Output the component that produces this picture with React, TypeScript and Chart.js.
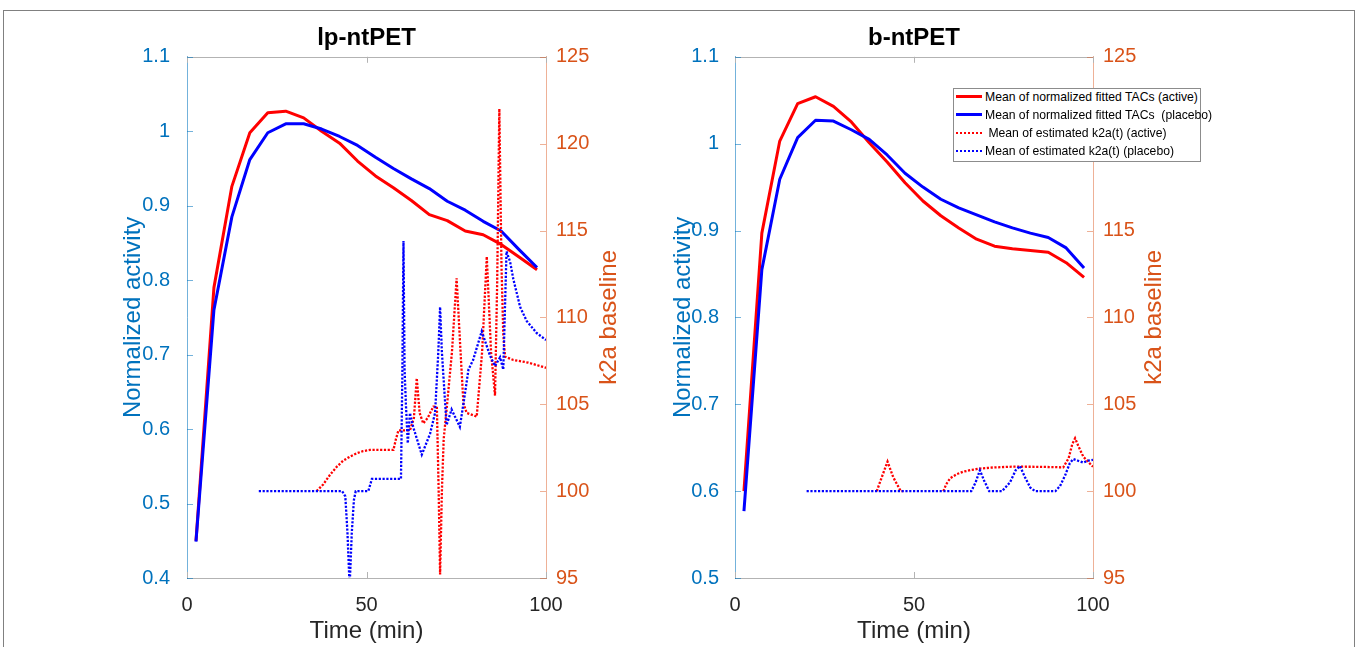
import React, { useEffect, useRef } from "react";
import { Chart, registerables } from "chart.js";

Chart.register(...registerables);

const FONT = '"Liberation Sans", Arial, Helvetica, sans-serif';
Chart.defaults.font.family = FONT;

const LEFT_COLOR = "#0072BD";
const RIGHT_COLOR = "#D95319";
const LEFT_LINE = "rgba(0,114,189,0.55)";
const RIGHT_LINE = "rgba(217,83,25,0.45)";
const BOX_LINE = "#b3b3b3";
const RED = "#ff0000";
const BLUE = "#0000ff";

// ---------------- data ----------------
const frameTimes = [2.5, 7.5, 12.5, 17.5, 22.5, 27.5, 32.5, 37.5, 42.5, 47.5, 52.5, 57.5, 62.5, 67.5, 72.5, 77.5, 82.5, 87.5, 92.5, 97.5];

const lpActiveTAC = [0.45, 0.79, 0.926, 0.998, 1.025, 1.027, 1.018, 1.0, 0.984, 0.96, 0.94, 0.924, 0.907, 0.888, 0.88, 0.866, 0.861, 0.848, 0.831, 0.814];
const lpPlaceboTAC = [0.449, 0.76, 0.885, 0.962, 0.998, 1.01, 1.01, 1.003, 0.993, 0.981, 0.965, 0.95, 0.936, 0.923, 0.906, 0.894, 0.879, 0.866, 0.841, 0.817];

const bActiveTAC = [0.6, 0.897, 1.003, 1.046, 1.054, 1.043, 1.025, 1.001, 0.979, 0.955, 0.934, 0.917, 0.903, 0.89, 0.882, 0.879, 0.877, 0.875, 0.863, 0.846];
const bPlaceboTAC = [0.577, 0.855, 0.959, 1.007, 1.027, 1.026, 1.016, 1.005, 0.987, 0.966, 0.95, 0.936, 0.926, 0.918, 0.91, 0.903, 0.897, 0.892, 0.88, 0.857];

const lpActiveK2aTime = [36.1, 38, 39.8, 41.7, 43.5, 45.5, 47.3, 49, 51, 57.5, 58.2, 58.9, 62.1, 63.2, 64, 64.8, 65.8, 67, 68.6, 69.6, 70.1, 70.5, 71, 71.5, 72.3, 73.8, 75.1, 76.2, 77, 77.9, 80.7, 82.2, 83.5, 84.7, 85.8, 86.4, 87, 87.6, 88.1, 88.6, 90.9, 95, 100];
const lpActiveK2a = [100, 100.4, 100.93, 101.4, 101.75, 102.0, 102.18, 102.3, 102.37, 102.37, 103, 103.5, 103.5, 104.2, 106.5, 104.5, 103.9, 104.2, 104.86, 104.86, 100, 95.2, 100, 103, 104.67, 108, 112.25, 108, 105.05, 104.5, 104.29, 108, 113.5, 108, 105.5, 112, 122, 113, 109, 107.74, 107.55, 107.4, 107.1];

const lpPlaceboK2aTime = [20, 43.2, 44.1, 44.7, 45.3, 45.9, 46.5, 47, 50.5, 51.5, 59.6, 60.0, 60.3, 60.6, 61.0, 61.5, 62.1, 63, 65.4, 67.7, 69.1, 70, 70.5, 71, 72.3, 73.7, 76, 77.2, 78.4, 79.7, 82.1, 84.4, 85.8, 87.2, 88.1, 89, 90, 90.9, 92.8, 94.6, 97.4, 100];
const lpPlaceboK2a = [100, 100, 99.7, 97.6, 94.5, 97.6, 99.5, 100, 100, 100.7, 100.7, 107, 114.4, 107, 104.9, 102.75, 104.5, 103.7, 102.1, 103.3, 104.5, 108, 110.6, 108, 103.8, 104.7, 103.7, 105.3, 107, 107.55, 109.2, 107.8, 107.2, 107.7, 107, 113.8, 113.2, 112.2, 110.6, 109.8, 109.1, 108.7];

const bActiveK2aTime = [39.6, 41, 42.6, 44.2, 46.3, 47, 52, 58.2, 59, 60.1, 62, 63.8, 66, 68.4, 72, 77.7, 85, 91.7, 93.2, 94.2, 95, 95.9, 97.3, 100];
const bActiveK2a = [100, 100.8, 101.7, 100.8, 100, 100, null, 100, 100.4, 100.74, 100.98, 101.12, 101.22, 101.3, 101.36, 101.41, 101.4, 101.37, 101.9, 102.7, 103.04, 102.6, 101.98, 101.4];

const bPlaceboK2aTime = [20, 66, 67.2, 68.4, 69.6, 71, 74.6, 76.8, 78.4, 79.6, 81, 82.5, 83.8, 89.5, 90.8, 92.2, 93.5, 94.5, 95.8, 97.3, 98.5, 100];
const bPlaceboK2a = [100, 100, 100.5, 101.2, 100.6, 100, 100, 100.5, 101.2, 101.45, 100.8, 100.2, 100, 100, 100.3, 100.9, 101.6, 101.85, 101.75, 101.64, 101.75, 101.8];

const xTicks = [0, 50, 100];
const lpLeftTicks = [0.4, 0.5, 0.6, 0.7, 0.8, 0.9, 1.0, 1.1];
const lpLeftTickLabels = ["0.4", "0.5", "0.6", "0.7", "0.8", "0.9", "1", "1.1"];
const bLeftTicks = [0.5, 0.6, 0.7, 0.8, 0.9, 1.0, 1.1];
const bLeftTickLabels = ["0.5", "0.6", "0.7", "0.8", "0.9", "1", "1.1"];
const rightTicks = [95, 100, 105, 110, 115, 120, 125];
const rightTickLabels = ["95", "100", "105", "110", "115", "120", "125"];

const LABEL_ACTIVE_TAC = "Mean of normalized fitted TACs (active)";
const LABEL_PLACEBO_TAC = "Mean of normalized fitted TACs  (placebo)";
const LABEL_ACTIVE_K2A = " Mean of estimated k2a(t) (active)";
const LABEL_PLACEBO_K2A = "Mean of estimated k2a(t) (placebo)";

// ---------------- helpers ----------------
const pts = (xs: number[], ys: (number | null)[]) => xs.map((x, i) => ({ x, y: ys[i] }));

const framePlugin = {
  id: "frameExtras",
  afterDraw(chart: any, _args: any, opts: any) {
    const { ctx, chartArea: a } = chart;
    const sx = chart.scales.x;
    const yl = chart.scales.yL;
    const yr = chart.scales.yR;
    const L = 6;
    ctx.save();
    ctx.lineWidth = 1;
    ctx.strokeStyle = BOX_LINE;
    ctx.beginPath();
    const top = Math.round(a.top) + 0.5;
    ctx.moveTo(a.left, top);
    ctx.lineTo(a.right, top);
    for (const t of sx.ticks) {
      const px = Math.round(sx.getPixelForValue(t.value)) + 0.5;
      ctx.moveTo(px, a.bottom);
      ctx.lineTo(px, a.bottom - L);
      ctx.moveTo(px, a.top);
      ctx.lineTo(px, a.top + L);
    }
    ctx.stroke();
    ctx.strokeStyle = LEFT_LINE;
    ctx.beginPath();
    for (const t of yl.ticks) {
      const py = Math.round(yl.getPixelForValue(t.value)) + 0.5;
      ctx.moveTo(a.left, py);
      ctx.lineTo(a.left + L, py);
    }
    ctx.stroke();
    ctx.strokeStyle = RIGHT_LINE;
    ctx.beginPath();
    for (const t of yr.ticks) {
      const py = Math.round(yr.getPixelForValue(t.value)) + 0.5;
      ctx.moveTo(a.right, py);
      ctx.lineTo(a.right - L, py);
    }
    ctx.stroke();
    // right axis title (reads bottom-to-top like MATLAB)
    ctx.fillStyle = RIGHT_COLOR;
    ctx.font = `24px ${FONT}`;
    ctx.translate(a.right + (opts.rightTitleOffset || 61), (a.top + a.bottom) / 2);
    ctx.rotate(-Math.PI / 2);
    ctx.textAlign = "center";
    ctx.textBaseline = "middle";
    ctx.fillText(opts.rightTitle || "", 0, 0);
    ctx.restore();
  },
};

type PanelSpec = {
  title: string;
  activeTAC: number[];
  placeboTAC: number[];
  activeK2aT: number[];
  activeK2a: (number | null)[];
  placeboK2aT: number[];
  placeboK2a: number[];
  leftTicks: number[];
  leftTickLabels: string[];
  leftTitlePad: number;
  leftTickPad: number;
  rightTitleOffset: number;
};

function buildConfig(p: PanelSpec): any {
  const dotted = { borderWidth: 2.3, borderDash: [2.2, 1.6], pointRadius: 0, tension: 0, fill: false, spanGaps: false };
  const solid = { borderWidth: 3, pointRadius: 0, tension: 0, fill: false, borderJoinStyle: "round" };
  return {
    type: "line",
    data: {
      datasets: [
        { label: LABEL_PLACEBO_K2A, data: pts(p.placeboK2aT, p.placeboK2a), yAxisID: "yR", borderColor: BLUE, order: 0, ...dotted },
        { label: LABEL_ACTIVE_K2A, data: pts(p.activeK2aT, p.activeK2a), yAxisID: "yR", borderColor: RED, order: 1, ...dotted },
        { label: LABEL_PLACEBO_TAC, data: pts(frameTimes, p.placeboTAC), yAxisID: "yL", borderColor: BLUE, order: 2, ...solid },
        { label: LABEL_ACTIVE_TAC, data: pts(frameTimes, p.activeTAC), yAxisID: "yL", borderColor: RED, order: 3, ...solid },
      ],
    },
    options: {
      responsive: false,
      animation: false,
      events: [],
      layout: { padding: 0 },
      plugins: {
        legend: { display: false },
        tooltip: { enabled: false },
        title: {
          display: true,
          text: p.title,
          color: "#000000",
          font: { size: 24, weight: "bold", family: FONT },
          padding: { top: 9, bottom: 4 },
        },
        frameExtras: { rightTitle: "k2a baseline", rightTitleOffset: p.rightTitleOffset },
      },
      scales: {
        x: {
          type: "linear",
          min: 0,
          max: 100,
          afterBuildTicks: (s: any) => {
            s.ticks = xTicks.map((v) => ({ value: v }));
          },
          ticks: { color: "#262626", font: { size: 20 }, padding: 15, maxRotation: 0, autoSkip: false, callback: (v: any) => String(v) },
          grid: { display: false, drawTicks: false },
          border: { display: true, color: BOX_LINE, width: 1 },
          title: { display: true, text: "Time (min)", color: "#262626", font: { size: 24 }, padding: { top: 0, bottom: 1 } },
          afterFit: (s: any) => {
            s.height = 69;
          },
        },
        yL: {
          type: "linear",
          position: "left",
          min: p.leftTicks[0],
          max: p.leftTicks[p.leftTicks.length - 1],
          afterBuildTicks: (s: any) => {
            s.ticks = p.leftTicks.map((v) => ({ value: v }));
          },
          ticks: { color: LEFT_COLOR, font: { size: 20 }, padding: p.leftTickPad, autoSkip: false, callback: (_v: any, i: number) => p.leftTickLabels[i] },
          grid: { display: false, drawTicks: false },
          border: { display: true, color: LEFT_LINE, width: 1 },
          title: { display: true, text: "Normalized activity", color: LEFT_COLOR, font: { size: 24 }, padding: { top: p.leftTitlePad, bottom: 0 } },
          afterFit: (s: any) => {
            s.width = 90;
          },
        },
        yR: {
          type: "linear",
          position: "right",
          min: rightTicks[0],
          max: rightTicks[rightTicks.length - 1],
          afterBuildTicks: (s: any) => {
            s.ticks = rightTicks.map((v) => ({ value: v }));
          },
          ticks: { color: RIGHT_COLOR, font: { size: 20 }, padding: 10, autoSkip: false, callback: (_v: any, i: number) => rightTickLabels[i] },
          grid: { display: false, drawTicks: false },
          border: { display: true, color: RIGHT_LINE, width: 1 },
          title: { display: false },
          afterFit: (s: any) => {
            s.width = 90;
          },
        },
      },
    },
    plugins: [framePlugin],
  };
}

const lpSpec: PanelSpec = {
  title: "lp-ntPET",
  activeTAC: lpActiveTAC,
  placeboTAC: lpPlaceboTAC,
  activeK2aT: lpActiveK2aTime,
  activeK2a: lpActiveK2a,
  placeboK2aT: lpPlaceboK2aTime,
  placeboK2a: lpPlaceboK2a,
  leftTicks: lpLeftTicks,
  leftTickLabels: lpLeftTickLabels,
  leftTitlePad: 22,
  leftTickPad: 17,
  rightTitleOffset: 63,
};

const bSpec: PanelSpec = {
  title: "b-ntPET",
  activeTAC: bActiveTAC,
  placeboTAC: bPlaceboTAC,
  activeK2aT: bActiveK2aTime,
  activeK2a: bActiveK2a,
  placeboK2aT: bPlaceboK2aTime,
  placeboK2a: bPlaceboK2a,
  leftTicks: bLeftTicks,
  leftTickLabels: bLeftTickLabels,
  leftTitlePad: 24,
  leftTickPad: 16,
  rightTitleOffset: 61,
};

function Panel({ spec, left, top, width, height }: { spec: PanelSpec; left: number; top: number; width: number; height: number }) {
  const ref = useRef<HTMLCanvasElement>(null);
  useEffect(() => {
    const chart = new Chart(ref.current as HTMLCanvasElement, buildConfig(spec));
    return () => chart.destroy();
  }, [spec]);
  return (
    <canvas
      ref={ref}
      width={width}
      height={height}
      style={{ position: "absolute", left, top, width, height, display: "block" }}
    />
  );
}

const legendItems = [
  { text: LABEL_ACTIVE_TAC, color: RED, dotted: false },
  { text: LABEL_PLACEBO_TAC, color: BLUE, dotted: false },
  { text: LABEL_ACTIVE_K2A, color: RED, dotted: true },
  { text: LABEL_PLACEBO_K2A, color: BLUE, dotted: true },
];

function Legend() {
  return (
    <div
      style={{
        position: "absolute",
        left: 953,
        top: 88,
        width: 248,
        height: 74,
        boxSizing: "border-box",
        border: "1px solid #8c8c8c",
        background: "#ffffff",
        fontFamily: FONT,
        fontSize: 12.2,
        color: "#000",
      }}
    >
      {legendItems.map((it, i) => (
        <div key={i} style={{ position: "absolute", left: 0, top: i * 18 - 1, height: 18, width: 246 }}>
          <div
            style={{
              position: "absolute",
              left: 2,
              top: it.dotted ? 8 : 7,
              width: 26,
              height: 0,
              borderTop: it.dotted ? `2px dotted ${it.color}` : `3px solid ${it.color}`,
            }}
          />
          <div style={{ position: "absolute", left: 31, top: 0, lineHeight: "18px", whiteSpace: "pre" }}>{it.text}</div>
        </div>
      ))}
    </div>
  );
}

export default function App() {
  return (
    <div style={{ position: "fixed", left: 0, top: 0, width: 1358, height: 647, background: "#ffffff", overflow: "hidden" }}>
      <div
        style={{
          position: "absolute",
          left: 3,
          top: 10,
          width: 1352,
          height: 700,
          boxSizing: "border-box",
          border: "1px solid #808080",
        }}
      />
      <Panel spec={lpSpec} left={97} top={15} width={539} height={632} />
      <Panel spec={bSpec} left={645} top={15} width={538} height={632} />
      <Legend />
    </div>
  );
}
